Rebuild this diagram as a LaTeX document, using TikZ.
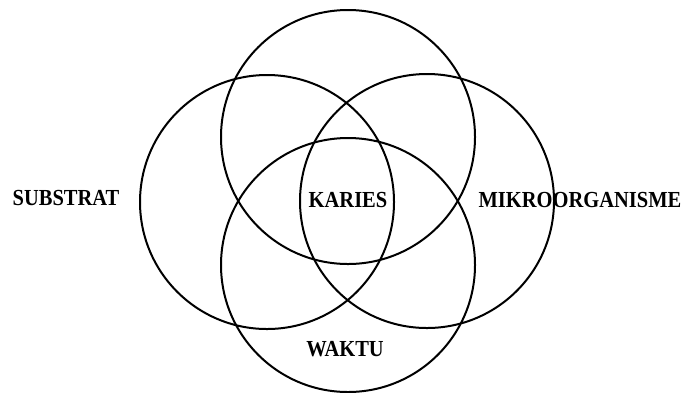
\documentclass[tikz,border=0pt]{standalone}
\usepackage{fontspec}
\setmainfont{Liberation Serif}
\begin{document}
\begin{tikzpicture}[x=1pt,y=-1pt,
  ring/.style={draw=black,line width=2pt,circle,minimum size=254pt,inner sep=0pt},
  lbl/.style={font=\fontsize{20.5}{24}\selectfont\bfseries,inner sep=0pt,yscale=1.12}]
\useasboundingbox (0,0) rectangle (695,392);
\node[ring] (top) at (348,137) {};
\node[ring] (left) at (267,202) {};
\node[ring] (right) at (427,201) {};
\node[ring] (bottom) at (348,265) {};
\node[lbl] (sub) at (66,198) {SUBSTRAT};
\node[lbl] (kar) at (348,200) {KARIES};
\node[lbl] (mik) at (580,200) {MIKROORGANISME};
\node[lbl] (wak) at (345,349) {WAKTU};
\end{tikzpicture}
\end{document}
